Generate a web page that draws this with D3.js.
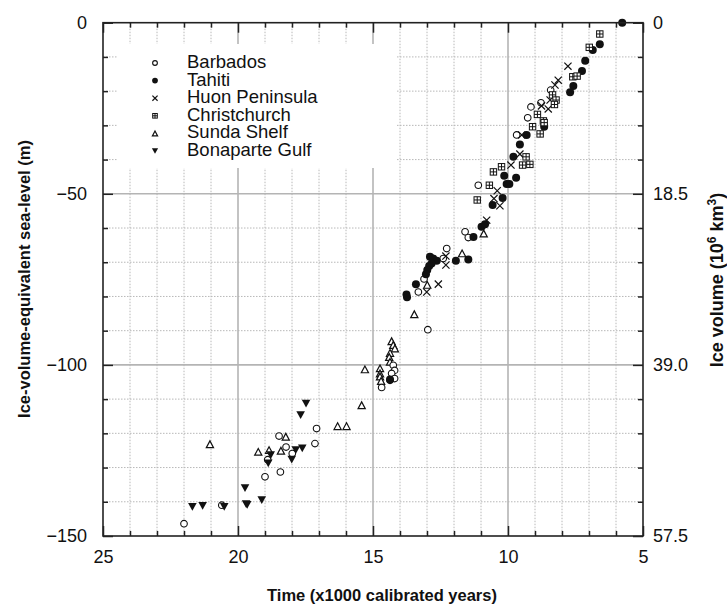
<!DOCTYPE html>
<html><head><meta charset="utf-8">
<script src="https://cdn.jsdelivr.net/npm/d3@7"></script>
<style>
html,body{margin:0;padding:0;background:#fff;}
svg{display:block;font-family:"Liberation Sans",Arial,Helvetica,sans-serif;}
</style></head>
<body>
<svg id="chart" width="727" height="607"></svg>
<script>
// ---- data: [time (kyr BP), ice-volume-equivalent sea level (m)] ----
const barbados = [[22.0,-146.4],[20.6,-141],[19.0,-132.7],[18.43,-131.3],[18.9,-127.7],[18.48,-120.8],[18.22,-124],[17.99,-125.9],[17.15,-123],[17.09,-118.6],[14.68,-106.6],[14.25,-100.1],[14.2,-101.6],[14.31,-102.5],[14.2,-104],[14.37,-104.5],[12.97,-89.7],[13.32,-78.7],[13.11,-74.9],[12.4,-68.9],[12.27,-66],[11.59,-61.1],[11.47,-62.8],[11.1,-47.5],[9.68,-32.8],[9.27,-27.8],[9.15,-24.6],[8.78,-23.4],[8.42,-19.7]];
const tahiti = [[5.77,0],[6.6,-6.3],[6.86,-8],[7.14,-11.1],[7.26,-14.1],[7.58,-18.5],[7.7,-20.3],[8.66,-30.4],[9.31,-32.8],[9.56,-35.6],[9.8,-39.2],[10.14,-44.7],[9.7,-45.3],[10.05,-47.1],[9.95,-47.1],[10.2,-51.2],[10.57,-53.3],[10.98,-59.6],[10.85,-58.9],[11.28,-62.6],[11.93,-69.6],[11.47,-69.2],[12.89,-68.4],[12.77,-68.9],[12.64,-69.6],[12.83,-70.4],[12.92,-71.1],[12.99,-72.3],[13.04,-73.5],[13.41,-76.4],[13.76,-79.4],[13.74,-80.2],[14.37,-104.3]];
const huon = [[7.78,-12.7],[8.14,-16.8],[8.26,-18.2],[8.44,-22.6],[8.76,-24.3],[8.51,-25.2],[9.49,-32.8],[9.56,-38.4],[9.89,-41.6],[10.4,-49.1],[10.52,-51.4],[10.3,-53.5],[10.79,-57.7],[12.3,-68.2],[12.3,-70.8],[12.58,-76.4],[13.01,-78.7]];
const christchurch = [[6.6,-3.3],[6.99,-7.2],[7.6,-15.8],[7.44,-15.6],[8.35,-21.1],[8.22,-22.6],[8.28,-23.9],[8.91,-26.8],[8.69,-28.7],[9.09,-30.4],[8.66,-29.2],[8.81,-32.5],[9.33,-39.2],[9.46,-41.6],[9.19,-41.4],[10.24,-42.1],[10.54,-43.6],[10.69,-47.5],[11.14,-51.8]];
const sunda = [[21.04,-123.2],[19.25,-125.4],[18.85,-124.9],[18.41,-125.1],[18.23,-121],[16.31,-117.9],[15.98,-117.9],[15.42,-111.8],[15.3,-101.3],[14.74,-101],[14.74,-102.5],[14.74,-103.4],[14.7,-104.7],[14.31,-93.1],[14.25,-94.2],[14.19,-95.2],[14.37,-96.5],[14.4,-97.7],[14.37,-99.1],[13.47,-85.2],[12.99,-76.6],[11.7,-67.4],[10.9,-61.6]];
const bonaparte = [[21.69,-141.5],[21.31,-141.2],[20.51,-141.5],[19.74,-136],[19.7,-140.7],[19.66,-140.9],[19.12,-139.5],[18.79,-126.4],[18.88,-128.8],[18.01,-127.7],[17.86,-124.9],[17.62,-124.4],[17.68,-114.7],[17.48,-111.3]];

const seriesNames = ["Barbados","Tahiti","Huon Peninsula","Christchurch","Sunda Shelf","Bonaparte Gulf"];
const seriesKeys  = ["circleOpen","circleFilled","cross","squarePlus","triUp","triDownFilled"];
const seriesData  = [barbados, tahiti, huon, christchurch, sunda, bonaparte];

const xMajorTicks = [25,20,15,10,5];
const yMajorTicks = [0,-50,-100,-150];
const rightTickLabels = ["0","18.5","39.0","57.5"];
const xTitle = "Time (x1000 calibrated years)";
const yTitle = "Ice-volume-equivalent sea-level (m)";

// ---- layout ----
const svg = d3.select("#chart");
const L = 103, R = 643, T = 22.7, B = 536;
const x = d3.scaleLinear().domain([25,5]).range([L,R]);
const y = d3.scaleLinear().domain([0,-150]).range([T,B]);
const xMinor = d3.range(6,25,1).filter(v => !xMajorTicks.includes(v));
const yMinor = d3.range(-10,-150,-10).filter(v => !yMajorTicks.includes(v));

// grid
const grid = svg.append("g");
grid.selectAll(".gxm").data(xMinor).join("line")
  .attr("x1",d=>x(d)).attr("x2",d=>x(d)).attr("y1",T).attr("y2",B)
  .attr("stroke","#b8b8b8").attr("stroke-width",1).attr("stroke-dasharray","1.5,1.5");
grid.selectAll(".gym").data(yMinor).join("line")
  .attr("y1",d=>y(d)).attr("y2",d=>y(d)).attr("x1",L).attr("x2",R)
  .attr("stroke","#b8b8b8").attr("stroke-width",1).attr("stroke-dasharray","1.5,1.5");
grid.selectAll(".gxM").data([20,15,10]).join("line")
  .attr("x1",d=>x(d)).attr("x2",d=>x(d)).attr("y1",T).attr("y2",B)
  .attr("stroke","#b4b4b4").attr("stroke-width",1.6);
grid.selectAll(".gyM").data([-50,-100]).join("line")
  .attr("y1",d=>y(d)).attr("y2",d=>y(d)).attr("x1",L).attr("x2",R)
  .attr("stroke","#b4b4b4").attr("stroke-width",1.6);

// legend background
svg.append("rect").attr("x",118).attr("y",44).attr("width",278).attr("height",124).attr("fill","#fff");

// symbol drawing
function drawSymbol(g, key, s) {
  if (key === "circleOpen") {
    g.append("circle").attr("r",3.3*s).attr("fill","#fff").attr("stroke","#111").attr("stroke-width",1.1);
  } else if (key === "circleFilled") {
    g.append("circle").attr("r",4*s).attr("fill","#111");
  } else if (key === "cross") {
    const a = 3.6*s;
    g.append("path").attr("d",`M${-a},${-a}L${a},${a}M${-a},${a}L${a},${-a}`)
      .attr("stroke","#111").attr("stroke-width",1.2).attr("fill","none");
  } else if (key === "squarePlus") {
    const a = 3.2*s;
    g.append("rect").attr("x",-a).attr("y",-a).attr("width",2*a).attr("height",2*a)
      .attr("fill","#fff").attr("stroke","#111").attr("stroke-width",1);
    g.append("path").attr("d",`M${-a},0L${a},0M0,${-a}L0,${a}`).attr("stroke","#111").attr("stroke-width",1);
  } else if (key === "triUp") {
    const w = 3.6*s, h = 3.4*s;
    g.append("path").attr("d",`M0,${-h}L${w},${h}L${-w},${h}Z`)
      .attr("fill","#fff").attr("stroke","#111").attr("stroke-width",1.2);
  } else if (key === "triDownFilled") {
    const w = 4.3*s, h = 3.9*s;
    g.append("path").attr("d",`M${-w},${-h}L${w},${-h}L0,${h}Z`).attr("fill","#111");
  }
}

// points
const pts = svg.append("g");
const order = [4,0,1,2,3,5];
order.forEach(i => {
  pts.selectAll(null).data(seriesData[i]).join("g")
    .attr("transform", d => `translate(${x(d[0])},${y(d[1])})`)
    .each(function(){ drawSymbol(d3.select(this), seriesKeys[i], 1); });
});

// frame
svg.append("rect").attr("x",L).attr("y",T).attr("width",R-L).attr("height",B-T)
  .attr("fill","none").attr("stroke","#222").attr("stroke-width",1.6);

// axes (inward ticks)
const fontSize = 18;
function styleAxis(g){
  g.select(".domain").remove();
  g.selectAll(".tick line").attr("stroke","#222").attr("stroke-width",1.5);
  g.selectAll("text").attr("fill","#111").attr("font-size",fontSize).attr("font-family","Liberation Sans, Arial, sans-serif");
}
svg.append("g").attr("transform",`translate(0,${B})`)
  .call(d3.axisBottom(x).tickValues(xMinor).tickSize(-5).tickFormat("")).call(styleAxis);
svg.append("g").attr("transform",`translate(0,${B})`)
  .call(d3.axisBottom(x).tickValues(xMajorTicks).tickSize(-10).tickPadding(14).tickFormat(d3.format("d"))).call(styleAxis);
svg.append("g").attr("transform",`translate(0,${T})`)
  .call(d3.axisTop(x).tickValues(xMinor).tickSize(-5).tickFormat("")).call(styleAxis);
svg.append("g").attr("transform",`translate(0,${T})`)
  .call(d3.axisTop(x).tickValues(xMajorTicks).tickSize(-10).tickFormat("")).call(styleAxis);
svg.append("g").attr("transform",`translate(${L},0)`)
  .call(d3.axisLeft(y).tickValues(yMinor).tickSize(-5).tickFormat("")).call(styleAxis);
svg.append("g").attr("transform",`translate(${L},0)`)
  .call(d3.axisLeft(y).tickValues(yMajorTicks).tickSize(-10).tickPadding(16).tickFormat(d3.format("d"))).call(styleAxis);
svg.append("g").attr("transform",`translate(${R},0)`)
  .call(d3.axisRight(y).tickValues(yMinor).tickSize(-5).tickFormat("")).call(styleAxis);
svg.append("g").attr("transform",`translate(${R},0)`)
  .call(d3.axisRight(y).tickValues(yMajorTicks).tickSize(-10).tickPadding(10)
    .tickFormat((d,i)=>rightTickLabels[i])).call(styleAxis);

// titles
svg.append("text").attr("x",382).attr("y",601).attr("text-anchor","middle")
  .attr("font-weight","bold").attr("font-size",16.5).attr("fill","#111").text(xTitle);
svg.append("text").attr("transform",`translate(30,279) rotate(-90)`).attr("text-anchor","middle")
  .attr("font-weight","bold").attr("font-size",16.5).attr("fill","#111").text(yTitle);
const rt = svg.append("text").attr("transform",`translate(723,280) rotate(-90)`).attr("text-anchor","middle")
  .attr("font-weight","bold").attr("font-size",18).attr("fill","#111");
rt.append("tspan").text("Ice volume (10");
rt.append("tspan").attr("font-size",12).attr("dy",-7).text("6");
rt.append("tspan").attr("dy",7).text(" km");
rt.append("tspan").attr("font-size",12).attr("dy",-7).text("3");
rt.append("tspan").attr("dy",7).text(")");

// legend
const lg = svg.append("g");
seriesNames.forEach((name,i) => {
  const yy = 68 + i*17.6;
  const g = lg.append("g").attr("transform",`translate(155,${yy-5})`);
  drawSymbol(g, seriesKeys[i], 0.72);
  lg.append("text").attr("x",187).attr("y",yy).attr("font-size",18.5).attr("fill","#111").text(name);
});
</script>
</body></html>
